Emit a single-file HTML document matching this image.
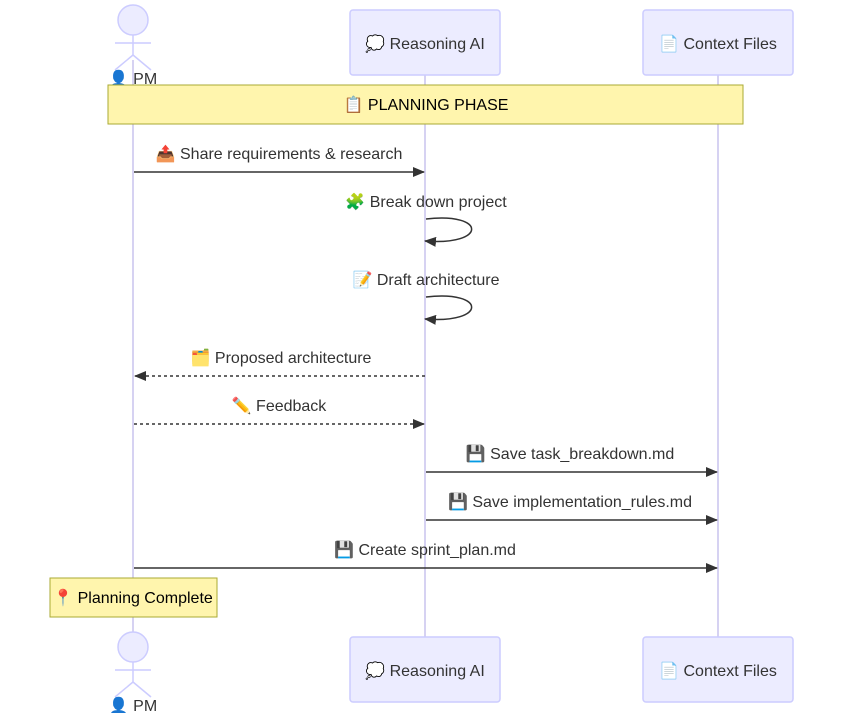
<!DOCTYPE html>
<html><head><meta charset="utf-8"><style>
html,body{margin:0;padding:0;background:#fff;}
svg{display:block;font-family:"Liberation Sans","Noto Sans CJK SC",sans-serif;}
text{font-size:16px;fill:#333;}
</style></head><body>
<svg width="844" height="713" viewBox="0 0 844 713" xmlns="http://www.w3.org/2000/svg">
<defs>
<marker id="ar" viewBox="0 0 12 10" refX="11" refY="5" markerWidth="12" markerHeight="10" orient="auto" markerUnits="userSpaceOnUse">
<path d="M0,0 L12,5 L0,10 z" fill="#333"/></marker>
</defs>
<g stroke="#d6d2f2" stroke-width="2">
<line x1="133" y1="60" x2="133" y2="640"/>
<line x1="425" y1="75" x2="425" y2="637"/>
<line x1="718" y1="75" x2="718" y2="637"/>
</g>
<g fill="#ececff" stroke="#ccccff" stroke-width="1.5">
<circle cx="133" cy="20" r="15"/>
<line x1="133" y1="35" x2="133" y2="55"/>
<line x1="115" y1="43" x2="151" y2="43"/>
<line x1="133" y1="55" x2="115" y2="70"/>
<line x1="133" y1="55" x2="151" y2="70"/>
<rect x="350" y="10" width="150" height="65" rx="3"/>
<rect x="643" y="10" width="150" height="65" rx="3"/>
<circle cx="133" cy="647" r="15"/>
<line x1="133" y1="662" x2="133" y2="682"/>
<line x1="115" y1="670" x2="151" y2="670"/>
<line x1="133" y1="682" x2="115" y2="697"/>
<line x1="133" y1="682" x2="151" y2="697"/>
<rect x="350" y="637" width="150" height="65" rx="3"/>
<rect x="643" y="637" width="150" height="65" rx="3"/>
</g>
<g text-anchor="middle">
<text x="133" y="84">👤 PM</text>
<text x="425" y="49">💭 Reasoning AI</text>
<text x="718" y="49">📄 Context Files</text>
<text x="133" y="711">👤 PM</text>
<text x="425" y="676">💭 Reasoning AI</text>
<text x="718" y="676">📄 Context Files</text>
</g>
<rect x="108" y="85" width="635" height="39" fill="#fff5ad" stroke="#aaaa33"/>
<text x="426" y="110" text-anchor="middle" style="fill:#000">📋 PLANNING PHASE</text>
<g text-anchor="middle">
<text x="279" y="159">📤 Share requirements &amp; research</text>
<text x="426" y="207">🧩 Break down project</text>
<text x="426" y="285">📝 Draft architecture</text>
<text x="281" y="363">🗂️ Proposed architecture</text>
<text x="279" y="411">✏️ Feedback</text>
<text x="570" y="459">💾 Save task_breakdown.md</text>
<text x="570" y="507">💾 Save implementation_rules.md</text>
<text x="425" y="555">💾 Create sprint_plan.md</text>
</g>
<g stroke="#333" stroke-width="1.5" fill="none" marker-end="url(#ar)">
<line x1="134" y1="172" x2="424" y2="172"/>
<path d="M426,219 C487,212 487,246 425,241"/>
<path d="M426,297 C487,290 487,324 425,319"/>
<line x1="425" y1="376" x2="135" y2="376" stroke-dasharray="3,3"/>
<line x1="134" y1="424" x2="424" y2="424" stroke-dasharray="3,3"/>
<line x1="426" y1="472" x2="717" y2="472"/>
<line x1="426" y1="520" x2="717" y2="520"/>
<line x1="134" y1="568" x2="717" y2="568"/>
</g>
<rect x="50" y="578" width="167" height="39" fill="#fff5ad" stroke="#aaaa33"/>
<text x="133" y="603" text-anchor="middle" style="fill:#000">📍 Planning Complete</text>
</svg>
</body></html>
